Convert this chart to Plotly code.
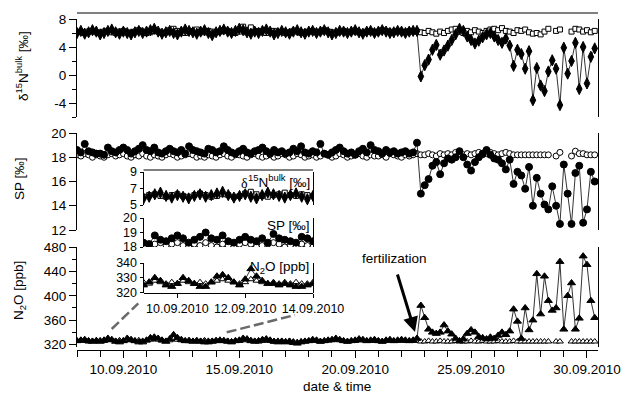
import pandas as pd
import plotly.graph_objects as go

# ---------------- data (4-hourly samples starting 08.09.2010 00:00) ----------------
START = "2010-09-08 00:00"
STEP = "4h"

# delta15N bulk [permil] - fertilized chamber (filled diamonds)
d15n_sample = [
    6.0, 6.3, 5.9, 6.1, 6.4, 6.2,   # 08.09
    5.8, 6.0, 6.3, 6.5, 6.1, 5.9,   # 09.09
    6.2, 6.0, 5.8, 6.1, 6.3, 6.0,   # 10.09
    6.2, 6.4, 6.6, 6.2, 5.9, 6.1,   # 11.09
    6.3, 6.0, 5.8, 6.2, 6.5, 6.3,   # 12.09
    6.1, 5.9, 6.2, 6.4, 6.0, 5.7,   # 13.09
    6.1, 6.3, 6.5, 6.2, 6.0, 6.3,   # 14.09
    6.6, 6.4, 6.1, 5.9, 6.2, 6.0,   # 15.09
    6.3, 6.5, 6.2, 5.8, 6.0, 6.3,   # 16.09
    6.1, 5.9, 6.2, 6.4, 6.1, 5.9,   # 17.09
    6.2, 6.3, 6.0, 6.2, 6.4, 6.1,   # 18.09
    5.8, 6.0, 6.3, 6.2, 6.0, 6.2,   # 19.09
    6.4, 6.1, 5.9, 6.2, 6.3, 6.0,   # 20.09
    6.2, 6.4, 6.2, 6.0, 6.1, 6.3,   # 21.09
    6.2, 6.0, 6.2, 6.3, 6.3, -0.2,  # 22.09
    1.4, 2.2, 3.6, 4.3, 2.9, 3.5,   # 23.09
    4.2, 5.0, 5.8, 6.6, 6.3, 5.5,   # 24.09
    5.0, 4.5, 4.9, 5.4, 5.8, 6.0,   # 25.09
    5.5, 5.0, 4.6, 5.2, 4.2, 1.3,   # 26.09
    3.6, 3.0, 0.9, 3.4, -3.6, 1.0,  # 27.09
    -1.5, -2.3, 0.5, 2.1, 0.9, -4.3,  # 28.09
    3.9, 0.2, 2.0, 4.6, -2.0, 4.0,  # 29.09
    -1.2, 2.6, 3.8,                 # 30.09
]
# delta15N bulk [permil] - reference (open squares)
d15n_ref = [
    6.1, 6.2, 6.0, 6.2, 6.3, 6.1,
    6.0, 6.2, 6.3, 6.1, 6.0, 6.2,
    6.3, 6.1, 6.0, 6.2, 6.4, 6.2,
    6.0, 6.1, 6.3, 6.2, 6.0, 6.1,
    6.4, 6.6, 6.3, 6.1, 6.0, 6.2,
    6.3, 6.5, 6.2, 6.1, 6.3, 6.2,
    6.1, 6.2, 6.4, 6.3, 6.1, 6.0,
    6.2, 6.9, 6.1, 6.8, 6.2, 6.3,
    6.1, 6.0, 6.2, 6.3, 6.1, 6.2,
    6.0, 6.1, 6.3, 6.2, 6.0, 6.1,
    6.2, 6.3, 6.1, 6.2, 6.4, 6.2,
    6.1, 6.0, 6.2, 6.3, 6.1, 6.2,
    6.3, 6.1, 6.0, 6.2, 6.3, 6.1,
    6.2, 6.4, 6.3, 6.1, 6.2, 6.3,
    6.2, 6.1, 6.3, 6.2, 6.2, 6.1,
    6.0, 6.3, 6.1, 5.9, 6.2, 6.0,
    6.3, 6.5, 6.6, 6.2, 6.0, 6.3,
    6.1, 6.4, 6.2, 6.0, 6.3, 6.5,
    6.6, 6.4, 6.7, 6.3, 6.2, 6.0,
    6.4, 6.3, 6.5, 6.1, 5.9, 6.0,
    5.8, 6.2, 6.6, None, 6.3, 6.5,
    None, None, 6.2, 6.6, 6.5, 6.2,
    6.4, 6.1, 6.3,
]
# site preference SP [permil] - fertilized (filled circles)
sp_sample = [
    18.6, 18.4, 19.1, 18.5, 18.4, 18.3,
    18.3, 18.2, 18.8, 18.5, 18.4, 18.6,
    18.8, 18.6, 18.3, 18.5, 18.7, 19.0,
    18.6, 18.5, 18.8, 18.4, 18.3, 18.5,
    18.7, 18.5, 18.4, 18.6, 18.3, 18.9,
    18.6, 18.5, 18.4, 18.3, 18.7, 18.6,
    18.4, 18.5, 18.9, 18.6, 18.4, 18.3,
    18.5, 18.7, 18.4, 18.3, 18.5, 18.6,
    18.8, 18.5, 18.3, 18.6, 18.4, 18.5,
    18.3, 18.4, 18.7, 18.5, 18.9, 18.4,
    18.3, 18.5, 18.4, 19.1, 18.3, 18.2,
    18.4, 18.6, 18.8, 18.5, 18.3, 18.4,
    18.2, 18.5, 18.7, 18.4, 19.0, 18.6,
    18.5, 18.3, 18.6, 18.4, 18.5, 18.3,
    18.4, 18.5, 18.3, 18.4, 19.2, 15.0,
    15.7, 16.2, 17.3, 17.6, 16.6, 17.5,
    17.9, 17.8, 18.0, 18.5, 18.0, 17.4,
    16.9, 17.6, 18.0, 18.3, 18.6, 18.2,
    17.9, 17.8, 17.5, 17.0, 17.8, 15.8,
    16.8, 16.5, 15.4, 17.2, 14.0, 16.3,
    15.0, 14.1, 13.7, 15.6, 14.0, 12.5,
    17.4, 15.0, 12.5, 16.7, 17.3, 12.6,
    13.7, 16.8, 16.0,
]
# site preference SP [permil] - reference (open circles)
sp_ref = [
    18.2, 18.1, 18.3, 18.2, 18.0, 18.2,
    18.1, 18.0, 18.2, 18.3, 18.1, 18.2,
    18.3, 18.1, 18.0, 18.2, 18.1, 18.3,
    18.1, 18.0, 18.2, 18.1, 18.0, 18.2,
    18.3, 18.2, 18.0, 18.1, 18.2, 18.3,
    18.2, 18.0, 18.1, 18.0, 18.2, 18.1,
    18.0, 18.2, 18.3, 18.1, 18.0, 18.2,
    18.2, 18.1, 18.0, 18.2, 18.3, 18.1,
    18.0, 18.1, 18.2, 18.0, 18.1, 18.3,
    18.2, 18.0, 18.1, 18.3, 18.2, 18.0,
    18.1, 18.2, 18.0, 18.1, 18.3, 18.2,
    18.0, 18.1, 18.3, 18.2, 18.0, 18.1,
    18.2, 18.3, 18.1, 18.0, 18.2, 18.1,
    18.1, 18.2, 18.0, 18.3, 18.2, 18.1,
    18.0, 18.2, 18.1, 18.2, 18.3, 18.2,
    18.2, 18.3, 18.2, 18.1, 18.3, 18.2,
    18.3, 18.2, 18.4, 18.3, 18.2, 18.3,
    18.2, 18.3, 18.4, 18.2, 18.3, 18.4,
    18.3, 18.2, 18.3, 18.4, 18.3, 18.2,
    18.2, 18.2, 18.2, 18.2, 18.2, 18.2,
    18.2, 18.2, 18.2, None, 18.1, 18.4,
    None, None, 18.1, 18.5, 18.3, 18.3,
    18.2, 18.2, 18.2,
]
# N2O mixing ratio [ppb] - fertilized (filled triangles)
n2o_sample = [
    326, 327, 328, 326, 325, 326,
    325, 327, 330, 328, 325, 324,
    326, 330, 328, 326, 324, 324,
    327, 331, 332, 330, 327, 325,
    329, 336, 331, 328, 326, 326,
    325, 326, 325, 324, 324, 325,
    326, 327, 326, 325, 324, 326,
    327, 330, 329, 326, 325, 326,
    328, 329, 327, 325, 324, 325,
    324, 325, 323, 322, 324, 325,
    326, 328, 327, 325, 326, 327,
    328, 330, 328, 326, 325, 326,
    327, 329, 328, 326, 327, 328,
    326, 325, 327, 328, 326, 327,
    328, 327, 326, 327, 330, 384,
    364, 345, 340, 338, 340, 352,
    342, 337, 330, 326, 329, 338,
    344, 340, 333, 331, 329, 332,
    330, 335, 340, 336, 342, 378,
    358, 330, 380, 344, 360, 436,
    370, 432, 392, 376, 380, 456,
    345, 400, 421, 345, 363, 465,
    451, 392, 364,
]
# N2O mixing ratio [ppb] - reference (open triangles)
n2o_ref = [
    326, 327, 326, 325, 326, 327,
    327, 326, 328, 327, 326, 327,
    326, 328, 327, 326, 327, 326,
    327, 328, 329, 328, 327, 326,
    327, 329, 328, 327, 326, 327,
    326, 327, 326, 327, 326, 326,
    327, 326, 327, 326, 325, 326,
    326, 327, 328, 327, 326, 325,
    326, 327, 326, 325, 326, 326,
    325, 326, 325, 324, 325, 326,
    326, 327, 326, 325, 326, 327,
    327, 328, 327, 326, 325, 326,
    326, 327, 327, 326, 326, 327,
    326, 325, 326, 327, 326, 326,
    327, 326, 326, 326, 326, 325,
    325, 326, 325, 325, 326, 325,
    325, 325, 326, 325, 325, 325,
    326, 325, 325, 326, 325, 325,
    325, 326, 325, 325, 325, 326,
    325, 325, 325, 325, 325, 325,
    325, 325, 325, None, 325, 325,
    None, None, 325, 325, 325, 325,
    325, 325, 325,
]

# tick labels
d15n_ticks = [-4, 0, 4, 8]
d15n_ticktext = ["-4", "0", "4", "8"]
inset_xticks = ["2010-09-10", "2010-09-12", "2010-09-14"]
inset_xticktext = ["10.09.2010", "12.09.2010", "14.09.2010"]

times = pd.date_range(START, periods=len(d15n_sample), freq=STEP)
inset_mask = (times >= "2010-09-08 20:00") & (times <= "2010-09-14 04:00")

# ---------------- figure ----------------
FONT = "Liberation Sans, Arial, sans-serif"
SERIF = "Liberation Serif, Times New Roman, serif"
W, H = 622, 393
ML, MR, MT, MB = 77, 24, 13, 43
PW, PH = W - ML - MR, H - MT - MB


def px(xp):
    return (xp - ML) / PW


def py(yp):
    return (H - MB - yp) / PH


fig = go.Figure()


def add(x, y, xa, ya, symbol, fill, size):
    fig.add_trace(go.Scatter(
        x=x, y=y, xaxis=xa, yaxis=ya, mode="lines+markers",
        line=dict(color="black", width=0.8),
        marker=dict(symbol=symbol, size=size, color=fill,
                    line=dict(color="black", width=1)),
        showlegend=False, hoverinfo="skip"))


# main panels (reference first so the sample series sits on top)
add(times, d15n_ref, "x", "y", "square", "white", 5)
add(times, d15n_sample, "x", "y", "diamond-tall", "black", 8)
add(times, sp_ref, "x", "y2", "circle", "white", 6)
add(times, sp_sample, "x", "y2", "circle", "black", 7)
add(times, n2o_ref, "x", "y3", "triangle-up", "white", 6)
add(times, n2o_sample, "x", "y3", "triangle-up", "black", 7)

# inset panels
ti = times[inset_mask]
sel = lambda arr: [v for v, m in zip(arr, inset_mask) if m]
add(ti, sel(d15n_ref), "x2", "y4", "square", "white", 5)
add(ti, sel(d15n_sample), "x2", "y4", "diamond-tall", "black", 8)
add(ti, sel(sp_ref), "x2", "y5", "circle", "white", 6)
add(ti, sel(sp_sample), "x2", "y5", "circle", "black", 7)
add(ti, sel(n2o_ref), "x2", "y6", "triangle-up", "white", 6)
add(ti, sel(n2o_sample), "x2", "y6", "triangle-up", "black", 7)

axis_common = dict(showgrid=False, zeroline=False, showline=True, linecolor="black",
                   linewidth=1, ticks="outside", tickcolor="black", tickwidth=1,
                   automargin=False,
                   tickfont=dict(family=FONT, size=13.5, color="black"))
inset_common = dict(axis_common, ticklen=3, tickfont=dict(family=FONT, size=12.5, color="black"))

DAY = 86400000

fig.update_layout(
    width=W, height=H,
    margin=dict(l=ML, r=MR, t=MT, b=MB, pad=0, autoexpand=False),
    paper_bgcolor="white", plot_bgcolor="white",
    font=dict(family=FONT, size=13.5, color="black"),
    xaxis=dict(axis_common, domain=[0, 1], anchor="free", position=0, type="date",
               range=["2010-09-08 00:00", "2010-09-30 11:24"],
               tick0="2010-09-10", dtick=5 * DAY, tickformat="%d.%m.%Y", ticklen=7,
               tickangle=0,
               minor=dict(tick0="2010-09-10", dtick=DAY, ticks="outside", ticklen=6,
                          tickcolor="black")),
    yaxis=dict(axis_common, domain=[py(117), py(19)], anchor="x", range=[-6, 8],
               tickmode="array", tickvals=d15n_ticks, ticktext=d15n_ticktext,
               ticklen=7, mirror=True,
               minor=dict(dtick=2, tick0=0, ticks="outside", ticklen=4, tickcolor="black")),
    yaxis2=dict(axis_common, domain=[py(230), py(133)], anchor="x", range=[12, 20],
                tick0=12, dtick=2, ticklen=7, mirror=True),
    yaxis3=dict(axis_common, domain=[py(347), py(247)], anchor="x", range=[316, 480],
                tick0=320, dtick=40, ticklen=7, mirror=True,
                minor=dict(dtick=20, tick0=320, ticks="outside", ticklen=4, tickcolor="black")),
    xaxis2=dict(inset_common, domain=[px(143.5), px(313)], anchor="free", position=py(292.5),
                type="date", range=["2010-09-09 00:00", "2010-09-14 00:00"],
                tickmode="array", tickvals=inset_xticks, ticktext=inset_xticktext,
                ticklen=4, tickangle=0),
    yaxis4=dict(inset_common, domain=[py(205), py(172)], anchor="x2", range=[5, 9],
                tick0=5, dtick=2, mirror=True),
    yaxis5=dict(inset_common, domain=[py(247), py(218)], anchor="x2", range=[18, 20],
                tick0=18, dtick=1, mirror=True),
    yaxis6=dict(inset_common, domain=[py(292.5), py(263)], anchor="x2", range=[320, 340],
                tick0=320, dtick=10, mirror=True),
)

shapes = [
    # frame line on top of the upper panel
    dict(type="line", xref="paper", yref="paper", x0=0, x1=1, y0=py(13), y1=py(13),
         line=dict(color="black", width=1)),
    # frame line on top of the inset
    dict(type="line", xref="paper", yref="paper", x0=px(143.5), x1=px(313), y0=py(170), y1=py(170),
         line=dict(color="black", width=1)),
    # dashed zoom guide lines
    dict(type="line", xref="paper", yref="paper", x0=px(111.7), y0=py(329), x1=px(138.3), y1=py(303.3),
         line=dict(color="#6a6a6a", width=2.5, dash="10px,4px")),
    dict(type="line", xref="paper", yref="paper", x0=px(226.7), y0=py(332.3), x1=px(295), y1=py(315),
         line=dict(color="#6a6a6a", width=2.5, dash="10px,4px")),
]
fig.update_layout(shapes=shapes)

ann = []


def text(x, y, s, size=13.5, angle=0, xanchor="center", family=FONT):
    ann.append(dict(xref="paper", yref="paper", x=px(x), y=py(y), text=s, showarrow=False,
                    textangle=angle, xanchor=xanchor, yanchor="middle",
                    font=dict(family=family, size=size, color="black")))


text(22, 66, "δ<sup>15</sup>N<sup>bulk</sup> [‰]", angle=-90)
text(19, 179, "SP [‰]", angle=-90)
text(19, 291, "N<sub>2</sub>O [ppb]", angle=-90)
text(337, 387, "date &amp; time")
text(394, 258, "fertilization")
# inset labels (delta in serif as in the original)
text(312, 181, "<sup>15</sup>N<sup>bulk</sup> [‰]", xanchor="right")
text(250, 183.5, "δ", size=14, xanchor="right", family=SERIF)
text(312, 226, "SP [‰]", xanchor="right")
text(311, 267, "N<sub>2</sub>O [ppb]", xanchor="right")

# fertilization arrow
ann.append(dict(xref="paper", yref="paper", x=px(415), y=py(332), ax=-18, ay=-59,
                axref="pixel", ayref="pixel", text="", showarrow=True,
                arrowhead=2, arrowsize=1, arrowwidth=3, arrowcolor="black", standoff=0))
fig.update_layout(annotations=ann)

fig.write_html("out.html")
